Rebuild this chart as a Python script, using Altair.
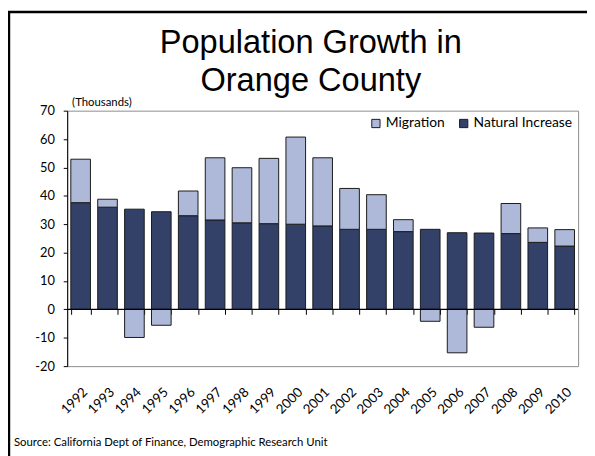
import altair as alt
import pandas as pd

years = [str(y) for y in range(1992, 2011)]
natural = [37.6, 36.0, 35.3, 34.4, 33.0, 31.5, 30.5, 30.2, 30.0, 29.4,
           28.2, 28.2, 27.4, 28.2, 27.0, 26.9, 26.7, 23.6, 22.3]
migration = [15.3, 2.8, -9.9, -5.6, 8.7, 21.9, 19.4, 23.0, 30.7, 24.0,
             14.4, 12.2, 4.2, -4.2, -15.3, -6.3, 10.6, 5.1, 5.8]
series_names = ["Migration", "Natural Increase"]
series_colors = ["#aeb8d8", "#334068"]
y_ticks = list(range(-20, 71, 10))
title_lines = ["Population Growth in", "Orange County"]
unit_label = "(Thousands)"
source_note = "Source:  California Dept of Finance, Demographic Research Unit"

rows = []
for i, yr in enumerate(years):
    rows.append({"year": yr, "series": "Natural Increase", "value": natural[i], "ord": 0})
    rows.append({"year": yr, "series": "Migration", "value": migration[i], "ord": 1})
df = pd.DataFrame(rows)

W, H = 518, 259
LABEL_FONT = "Lato"

xscale = alt.Scale(paddingInner=0.27, paddingOuter=0.135)
yscale = alt.Scale(domain=[-20, 70], nice=False, zero=False)
yaxis = alt.Axis(values=y_ticks, grid=False, domainColor="black", tickColor="black",
                 tickSize=4, labelPadding=9, labelFont=LABEL_FONT, labelFontSize=13,
                 labelColor="black", labelOverlap=False, labelBound=False,
                 labelExpr="'' + datum.value")

bars = alt.Chart(df).mark_bar(stroke="#1a1a1a", strokeWidth=1).encode(
    x=alt.X("year:N", scale=xscale, sort=years, title=None,
            axis=alt.Axis(orient="bottom", labelAngle=-45, labelPadding=19, domain=False, ticks=False,
                          labelFont=LABEL_FONT, labelFontSize=13.5, labelColor="black",
                          labelOverlap=False)),
    y=alt.Y("value:Q", stack="zero", title=None, scale=yscale, axis=yaxis),
    color=alt.Color("series:N", title=None,
                    scale=alt.Scale(domain=series_names, range=series_colors),
                    legend=alt.Legend(orient="none", legendX=306, legendY=6, direction="horizontal",
                                      symbolType="square", symbolSize=70, symbolStrokeColor="#1a1a1a",
                                      symbolStrokeWidth=1, labelFont=LABEL_FONT, labelFontSize=14,
                                      labelColor="black", columnPadding=12, symbolOffset=0,
                                      labelOffset=3)),
    order=alt.Order("ord:Q"),
)

tick_layer = alt.Chart(df).mark_bar(opacity=0).encode(
    x=alt.X("year:N", scale=xscale, sort=years, title=None,
            axis=alt.Axis(orient="bottom", labels=False, domain=False, ticks=True, tickBand="extent",
                          tickSize=5, tickColor="black", offset=-(H * 20 / 90))),
    y=alt.Y("value:Q", scale=yscale, axis=yaxis, title=None, stack="zero"),
)

zero_rule = alt.Chart(pd.DataFrame({"z": [0]})).mark_rule(color="black", strokeWidth=1.3).encode(
    y=alt.Y("z:Q", scale=yscale, axis=yaxis, title=None)
)

title1 = alt.Chart(pd.DataFrame({"t": [title_lines[0]]})).mark_text(
    align="center", baseline="alphabetic", font="Liberation Sans", fontSize=33, color="black"
).encode(text="t:N", x=alt.value(247), y=alt.value(-58))
title2 = alt.Chart(pd.DataFrame({"t": [title_lines[1]]})).mark_text(
    align="center", baseline="alphabetic", font="Liberation Sans", fontSize=33, color="black"
).encode(text="t:N", x=alt.value(247), y=alt.value(-20))

units = alt.Chart(pd.DataFrame({"t": [unit_label]})).mark_text(
    align="left", baseline="alphabetic", font=LABEL_FONT, fontSize=11.5, color="black"
).encode(text="t:N", x=alt.value(5), y=alt.value(-5))

source = alt.Chart(pd.DataFrame({"t": [source_note]})).mark_text(
    align="left", baseline="alphabetic", font=LABEL_FONT, fontSize=11.5, color="black"
).encode(text="t:N", x=alt.value(-54), y=alt.value(340))

frame_top = alt.Chart(pd.DataFrame({"a": [0]})).mark_rule(color="black", strokeWidth=2.5).encode(
    x=alt.value(-61), x2=alt.value(W + 20), y=alt.value(-100)
)
frame_left = alt.Chart(pd.DataFrame({"a": [0]})).mark_rule(color="black", strokeWidth=2.5).encode(
    x=alt.value(-59), y=alt.value(-101), y2=alt.value(H + 100)
)

chart = alt.layer(bars, tick_layer, zero_rule, title1, title2, units, source,
                  frame_top, frame_left).resolve_axis(
    x="independent"
).properties(
    width=W, height=H,
    autosize=alt.AutoSizeParams(type="none"),
    padding={"left": 60, "top": 101, "right": 9, "bottom": 88},
).configure_view(stroke="#8c8c8c", strokeWidth=1)

chart.save("out.html", embed_options={"renderer": "svg", "actions": False})
